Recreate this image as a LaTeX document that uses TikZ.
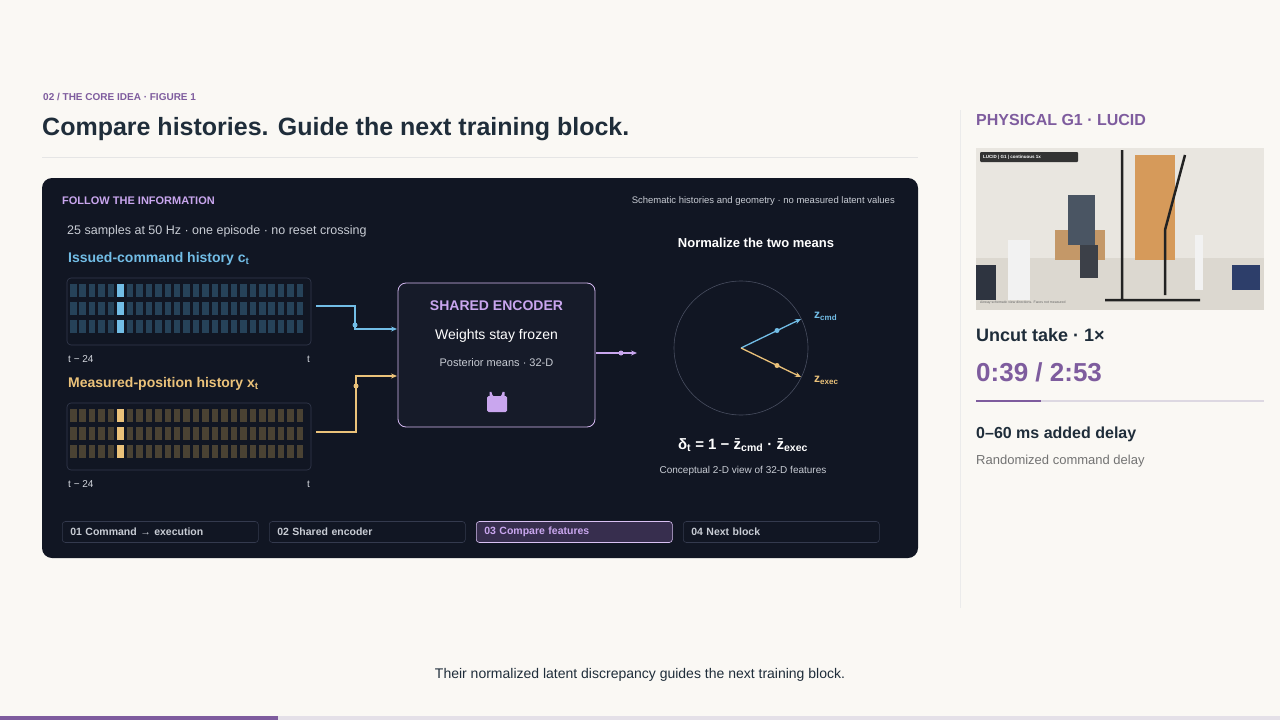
\documentclass[tikz,border=0pt]{standalone}
\usepackage{fontspec}
\setmainfont{Liberation Sans}
\usetikzlibrary{arrows.meta}
\begin{document}
\definecolor{bg}{HTML}{FAF8F4}
\definecolor{panel}{HTML}{111623}
\definecolor{ink}{HTML}{1F2D3A}
\definecolor{purp}{HTML}{7E5C9E}
\definecolor{lpurp}{HTML}{C9A6EE}
\definecolor{cblue}{HTML}{72BDE6}
\definecolor{corng}{HTML}{EBC27A}
\definecolor{dblue}{HTML}{264259}
\definecolor{dorng}{HTML}{4A4233}
\definecolor{greyt}{HTML}{C8CCD4}
\definecolor{edge}{HTML}{343A4E}
\definecolor{pwall}{HTML}{E9E6E0}
\definecolor{pfloor}{HTML}{DCD8D0}
\definecolor{pdoor}{HTML}{D69A5A}
\definecolor{pbox}{HTML}{C49868}
\definecolor{pdark}{HTML}{2E3440}
\definecolor{pwhite}{HTML}{F2F2F2}
\definecolor{pshirt}{HTML}{4A5563}
\definecolor{pshort}{HTML}{3C4048}
\definecolor{pblack}{HTML}{222222}
\definecolor{pchair}{HTML}{2D3E6A}
\definecolor{plab}{HTML}{333333}
\definecolor{track}{HTML}{DDD8E2}
\definecolor{pbar}{HTML}{E4E0E8}
\begin{tikzpicture}[x=1pt,y=-1pt,
  txt/.style={inner sep=0pt,anchor=west},
  tab/.style={draw=edge,rounded corners=3pt,line width=0.6pt,minimum width=196pt,minimum height=21pt,text width=180pt,anchor=west,text=greyt,font=\fontsize{10.5}{12}\selectfont\bfseries,inner sep=0pt},
  conn/.style={line width=1.3pt,-{Stealth[length=6pt,width=5pt]}},
  dot/.style={circle,fill,inner sep=0pt,minimum size=5pt}]
\useasboundingbox (0,0) rectangle (1280,720);
\fill[bg] (0,0) rectangle (1280,720);
% header
\node[txt,text=purp,font=\fontsize{10}{12}\selectfont\bfseries] (kick) at (43,97) {02 / THE CORE IDEA · FIGURE 1};
\node[txt,text=ink,font=\fontsize{25}{30}\selectfont\bfseries] (title) at (42,129) {Compare histories. Guide the next training block.};
\draw[black!10,line width=0.6pt] (42,157) -- (918,157);
% panel
\fill[panel,rounded corners=10pt] (42,178) rectangle (918,558);
\node[txt,text=lpurp,font=\fontsize{11}{13}\selectfont\bfseries] (follow) at (62,201) {FOLLOW THE INFORMATION};
\node[anchor=east,inner sep=0pt,text=greyt,font=\fontsize{9.5}{11}\selectfont] (schem) at (895,201) {Schematic histories and geometry · no measured latent values};
\node[txt,text=greyt,font=\fontsize{12.5}{15}\selectfont] (samples) at (67,231) {25 samples at 50 Hz · one episode · no reset crossing};
\node[txt,text=cblue,font=\fontsize{14}{16}\selectfont\bfseries] (ch) at (68,259) {Issued-command history c\textsubscript{t}};
\node[txt,text=corng,font=\fontsize{14}{16}\selectfont\bfseries] (mh) at (68,384) {Measured-position history x\textsubscript{t}};
% grids
\draw[edge,rounded corners=4pt,line width=0.6pt] (67,278) rectangle (311,345);
\draw[edge,rounded corners=4pt,line width=0.6pt] (67,403) rectangle (311,470);
\foreach \r in {0,1,2}{
 \foreach \c in {0,...,24}{
  \pgfmathsetmacro{\xx}{70+\c*9.45}
  \ifnum\c=5
   \fill[cblue] (\xx,284+\r*18) rectangle ++(6.5,13);
   \fill[corng] (\xx,409+\r*18) rectangle ++(6.5,13);
  \else
   \fill[dblue] (\xx,284+\r*18) rectangle ++(6.5,13);
   \fill[dorng] (\xx,409+\r*18) rectangle ++(6.5,13);
  \fi
 }}
\foreach \y/\n in {359/a,484/b}{
 \node[txt,text=greyt!80,font=\fontsize{10}{12}\selectfont] (tl\n) at (68,\y) {t − 24};
 \node[anchor=east,inner sep=0pt,text=greyt!80,font=\fontsize{10}{12}\selectfont] (tr\n) at (310,\y) {t};}
% encoder
\node[draw=lpurp!80,fill=panel!85!edge,rounded corners=8pt,line width=0.8pt,minimum width=197pt,minimum height=144pt,inner sep=0pt] (enc) at (496.5,355) {};
\node[text=lpurp,font=\fontsize{14}{16}\selectfont\bfseries,inner sep=0pt] (enct) at (496.5,306) {SHARED ENCODER};
\node[text=white,font=\fontsize{14}{16}\selectfont,inner sep=0pt] (encw) at (496.5,336) {Weights stay frozen};
\node[text=greyt,font=\fontsize{11}{13}\selectfont,inner sep=0pt] (encp) at (496.5,363) {Posterior means · 32-D};
\fill[lpurp,rounded corners=1.5pt] (487,396) rectangle (507,412);
\draw[lpurp,line width=2pt] (490.5,396) -- (490.5,392) arc[start angle=180,end angle=0,radius=6.5] -- (503.5,396);
% connectors
\coordinate (cs) at (316,306); \coordinate (os) at (316,432);
\coordinate (ce) at (397,329); \coordinate (oe) at (397,376);
\coordinate (ps) at (596,353); \coordinate (pe) at (637,353);
\draw[cblue,conn] (cs) -- (355,306) -- (355,329) -- (ce);
\node[dot,fill=cblue] at (355,325) {};
\draw[corng,conn] (os) -- (356,432) -- (356,376) -- (oe);
\node[dot,fill=corng] at (356,386) {};
\draw[lpurp,conn] (ps) -- (pe);
\node[dot,fill=lpurp] at (621,353) {};
% right part
\node[text=white,font=\fontsize{13}{15}\selectfont\bfseries,inner sep=0pt] (norm) at (756,243) {Normalize the two means};
\draw[edge!90!white,line width=0.6pt] (741,348) circle[radius=67];
\coordinate (o) at (741,348);
\coordinate (zc) at (801,319); \coordinate (ze) at (801,377);
\draw[cblue,conn] (o) -- (zc); \node[dot,fill=cblue] at (777,330.5) {};
\draw[corng,conn] (o) -- (ze); \node[dot,fill=corng] at (777,365.5) {};
\node[txt,text=cblue,font=\fontsize{12}{14}\selectfont\bfseries] (zcl) at (814,316) {z\textsubscript{cmd}};
\node[txt,text=corng,font=\fontsize{12}{14}\selectfont\bfseries] (zel) at (814,380) {z\textsubscript{exec}};
\node[text=white,font=\fontsize{15}{18}\selectfont\bfseries,inner sep=0pt] (delta) at (743,445) {δ\textsubscript{t} = 1 − z̄\textsubscript{cmd} · z̄\textsubscript{exec}};
\node[text=greyt,font=\fontsize{10}{12}\selectfont,inner sep=0pt] (concept) at (743,471) {Conceptual 2-D view of 32-D features};
% tabs
\node[tab] (t1) at (62,532) {01 Command → execution};
\node[tab] (t2) at (269,532) {02 Shared encoder};
\node[tab,fill=purp!35!panel,draw=lpurp!70,text=lpurp] (t3) at (476,532) {03 Compare features};
\node[tab] (t4) at (683,532) {04 Next block};
% sidebar
\draw[black!8,line width=0.8pt] (960,110) -- (960,608);
\node[txt,text=purp,font=\fontsize{16}{19}\selectfont\bfseries] (phys) at (976,120) {PHYSICAL G1 · LUCID};
% photo placeholder
\fill[pwall] (976,148) rectangle (1264,310);
\fill[pfloor] (976,258) rectangle (1264,310);
\fill[pdoor] (1135,155) rectangle (1175,260);
\fill[pbox] (1055,230) rectangle (1105,260);
\fill[pdark] (976,265) rectangle (996,300);
\fill[pwhite] (1008,240) rectangle (1030,300);
\fill[pshirt] (1068,195) rectangle (1095,245);
\fill[pshort] (1080,245) rectangle (1098,278);
\draw[pblack,line width=2.5pt] (1122,150) -- (1122,300) (1105,300) -- (1200,300) (1165,230) -- (1185,155) (1165,230) -- (1165,295);
\fill[pwhite] (1195,235) rectangle (1203,290);
\fill[pchair] (1232,265) rectangle (1260,290);
\fill[plab,rounded corners=1pt] (980,152) rectangle (1078,162);
\node[txt,text=white,font=\fontsize{4.5}{5}\selectfont\bfseries] (plabel) at (983,157) {LUCID | G1 | continuous 1x};
\node[txt,text=black!60,font=\fontsize{3.5}{4}\selectfont] (pcap) at (980,303) {Airway schematic view directions. Faces not measured};
\node[txt,text=ink,font=\fontsize{18}{21}\selectfont\bfseries] (uncut) at (976,335) {Uncut take · 1×};
\node[txt,text=purp,font=\fontsize{26}{30}\selectfont\bfseries] (time) at (976,372) {0:39 / 2:53};
\draw[track,line width=2.5pt] (976,401) -- (1264,401);
\draw[purp,line width=2.5pt] (976,401) -- (1041,401);
\node[txt,text=ink,font=\fontsize{16}{19}\selectfont\bfseries] (delay) at (976,434) {0–60 ms added delay};
\node[txt,text=black!55,font=\fontsize{13}{15}\selectfont] (rand) at (976,461) {Randomized command delay};
% caption
\node[text=ink,font=\fontsize{14}{17}\selectfont,inner sep=0pt] (cap) at (640,675) {Their normalized latent discrepancy guides the next training block.};
\fill[pbar] (0,716) rectangle (1280,720);
\fill[purp] (0,716) rectangle (278,720);
\end{tikzpicture}
\end{document}
